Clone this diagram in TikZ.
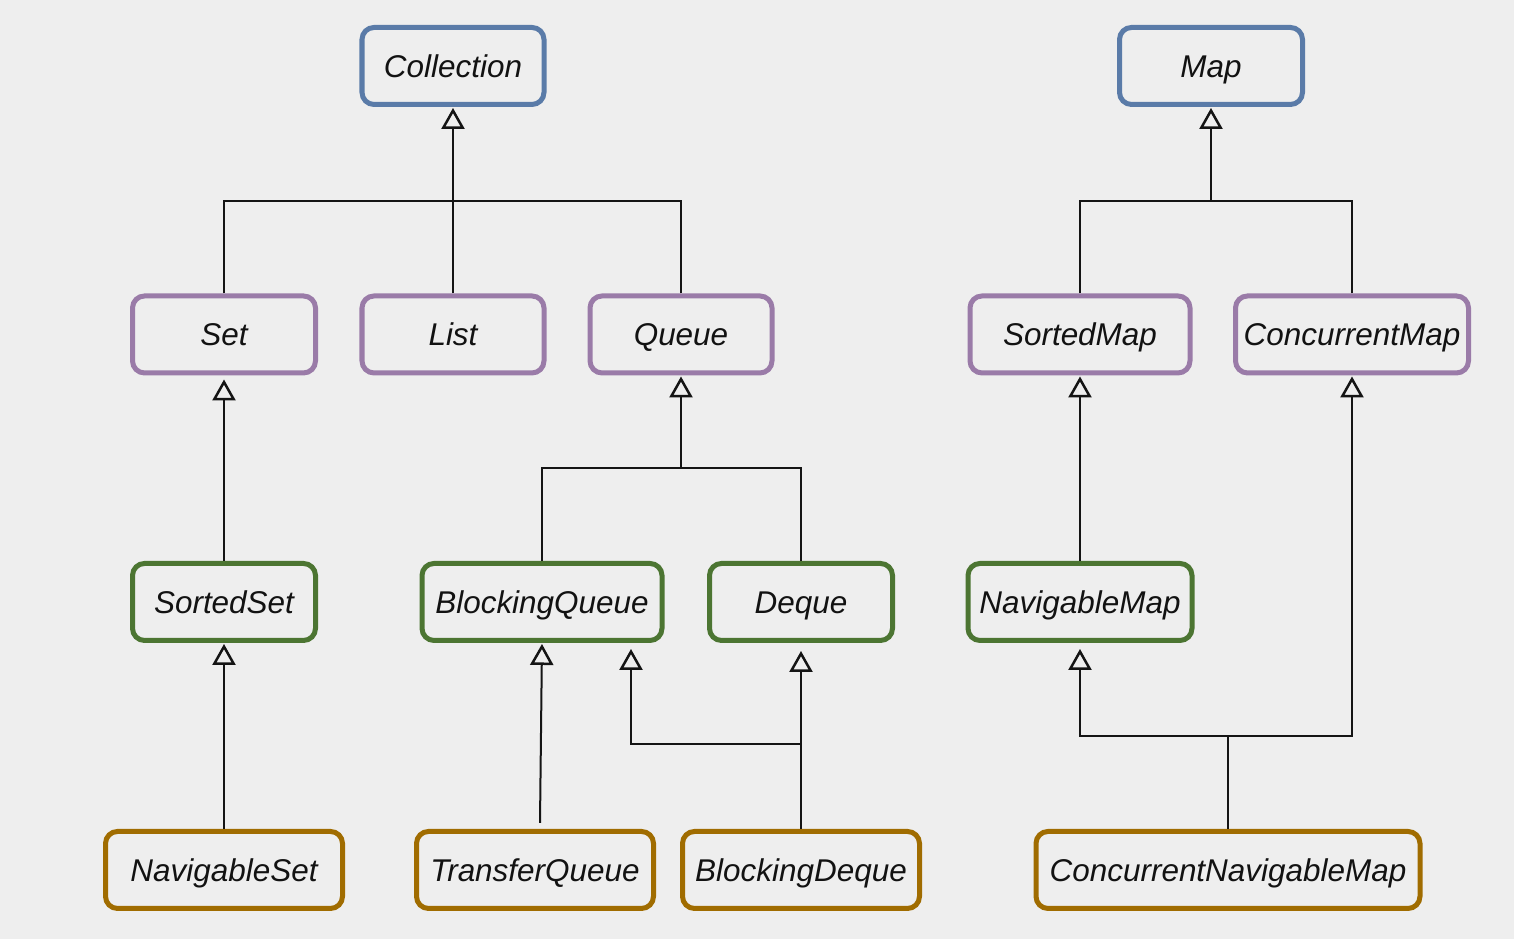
\documentclass[tikz,border=0pt]{standalone}
\usepackage{fontspec}
\setmainfont{Liberation Sans}
\usetikzlibrary{arrows.meta}
\definecolor{bgc}{HTML}{EEEEEE}
\definecolor{topc}{HTML}{5A7BA8}
\definecolor{midc}{HTML}{9A7BA8}
\definecolor{lowc}{HTML}{4C7532}
\definecolor{leafc}{HTML}{A06C00}
\begin{document}
\begin{tikzpicture}[
  box/.style={draw=#1,line width=0.05cm,rounded corners=0.12cm,minimum height=0.77cm,
    inner sep=0pt,text height=0.24cm,text depth=0.01cm,text=black!93,
    font=\fontsize{8.95}{10}\selectfont\itshape},
  topbox/.style={box=topc,minimum width=#1},
  midbox/.style={box=midc,minimum width=#1},
  lowbox/.style={box=lowc,minimum width=#1},
  leafbox/.style={box=leafc,minimum width=#1},
  link/.style={line width=0.02cm,black!92},
  inh/.style={link,-{Triangle[open,width=0.23cm,length=0.21cm,line width=0.025cm]}}]
\fill[bgc] (0,0) rectangle (15.14,9.39);
\useasboundingbox (0,0) rectangle (15.14,9.39);

% top row
\node[topbox=1.82cm] (collection) at (4.53,8.73){Collection};
\node[topbox=1.83cm] (map) at (12.11,8.73){Map};
% 2nd row
\node[midbox=1.83cm] (set) at (2.24,6.045){Set};
\node[midbox=1.82cm] (list) at (4.53,6.045){List};
\node[midbox=1.82cm] (queue) at (6.81,6.045){Queue};
\node[midbox=2.20cm] (sortedmap) at (10.80,6.045){SortedMap};
\node[midbox=2.33cm] (concmap) at (13.52,6.045){ConcurrentMap};
% 3rd row
\node[lowbox=1.83cm] (sortedset) at (2.24,3.37){SortedSet};
\node[lowbox=2.40cm] (bqueue) at (5.42,3.37){BlockingQueue};
\node[lowbox=1.83cm] (deque) at (8.01,3.37){Deque};
\node[lowbox=2.24cm] (navmap) at (10.80,3.37){NavigableMap};
% 4th row
\node[leafbox=2.37cm] (navset) at (2.24,0.69){NavigableSet};
\node[leafbox=2.37cm] (tqueue) at (5.35,0.69){TransferQueue};
\node[leafbox=2.37cm] (bdeque) at (8.01,0.69){BlockingDeque};
\node[leafbox=3.84cm] (cnavmap) at (12.28,0.69){ConcurrentNavigableMap};

% junctions
\coordinate (colj) at (4.53,7.38);
\coordinate (mapj) at (12.11,7.38);
\coordinate (queuej) at (6.81,4.71);
\coordinate (bdequej) at (8.01,1.95);
\coordinate (cnavj) at (12.28,2.03);

% Collection
\draw[link] (set.north) |- (colj);
\draw[link] (queue.north) |- (colj);
\draw[inh,shorten >=0.01cm] (list.north) -- (collection.south);
% Map
\draw[link] (sortedmap.north) |- (mapj);
\draw[link] (concmap.north) |- (mapj);
\draw[inh,shorten >=0.01cm] (mapj) -- (map.south);
% Set side
\draw[inh,shorten >=0.04cm] (sortedset.north) -- (set.south);
\draw[inh,shorten >=0.01cm] (navset.north) -- (sortedset.south);
% Queue side
\draw[link] (bqueue.north) |- (queuej);
\draw[link] (deque.north) |- (queuej);
\draw[inh,shorten >=0.01cm] (queuej) -- (queue.south);
\draw[inh,shorten >=0.01cm] ([xshift=0.05cm,yshift=0.06cm]tqueue.north) -- (bqueue.south);
\draw[inh,shorten >=0.08cm] (bdeque.north) -- (deque.south);
\draw[inh,shorten >=0.06cm] (bdequej) -| ([xshift=0.89cm]bqueue.south);
% Map side
\draw[inh,shorten >=0.01cm] (navmap.north) -- (sortedmap.south);
\draw[link] (cnavmap.north) -- (cnavj);
\draw[inh,shorten >=0.06cm] (cnavj) -| (navmap.south);
\draw[inh,shorten >=0.01cm] (cnavj) -| (concmap.south);

\end{tikzpicture}
\end{document}
